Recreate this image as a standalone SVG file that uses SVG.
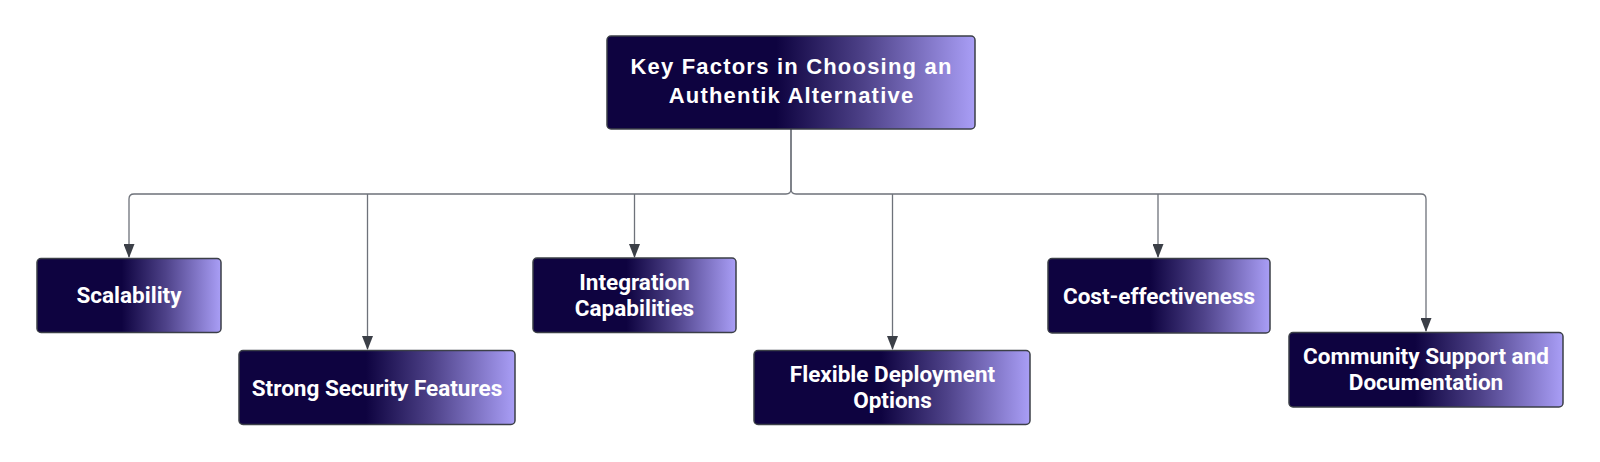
<svg xmlns="http://www.w3.org/2000/svg" width="1600" height="462" viewBox="0 0 1600 462">
<style>
.box{stroke:#3b3f47;stroke-width:1.5}
.t{font-family:Roboto,"Liberation Sans",sans-serif;font-weight:bold;fill:#ffffff;text-anchor:middle}
.root{font-family:"Liberation Sans",Arial,sans-serif;font-size:22px;letter-spacing:1.2px}
.c{font-size:22.5px}
.ln{fill:none;stroke:#6e727a;stroke-width:1.3}
</style>
<defs>
<linearGradient id="g" x1="0" y1="0" x2="1" y2="0">
<stop offset="0" stop-color="#0e0340"/>
<stop offset="0.46" stop-color="#0e0340"/>
<stop offset="0.7" stop-color="#4e4289"/>
<stop offset="1" stop-color="#a99ef6"/>
</linearGradient>
<marker id="ar" markerWidth="14" markerHeight="11" refX="13" refY="5.5" orient="auto" markerUnits="userSpaceOnUse" viewBox="0 0 14 11">
<path d="M0,0 L14,5.5 L0,11 Z" fill="#3b3f47"/>
</marker>
</defs>
<g id="connectors">
<path class="ln" d="M791,129 V189 Q791,194 786,194 H134 Q129,194 129,199 V257" marker-end="url(#ar)"/>
<path class="ln" d="M791,129 V189 Q791,194 796,194 H1421 Q1426,194 1426,199 V331" marker-end="url(#ar)"/>
<path class="ln" d="M367.5,194 V349" marker-end="url(#ar)"/>
<path class="ln" d="M634.5,194 V257" marker-end="url(#ar)"/>
<path class="ln" d="M892.5,194 V349" marker-end="url(#ar)"/>
<path class="ln" d="M1158,194 V257" marker-end="url(#ar)"/>
</g>
<g id="root">
<rect class="box" x="607" y="36" width="368" height="93" rx="4" fill="url(#g)"/>
<text class="t root" x="791.5" y="74">Key Factors in Choosing an</text>
<text class="t root" x="791.5" y="103">Authentik Alternative</text>
</g>
<g id="scalability">
<rect class="box" x="37" y="258.5" width="184" height="74" rx="4" fill="url(#g)"/>
<text class="t c" x="129" y="303">Scalability</text>
</g>
<g id="security">
<rect class="box" x="239" y="350.5" width="276" height="74" rx="4" fill="url(#g)"/>
<text class="t c" x="377" y="396">Strong Security Features</text>
</g>
<g id="integration">
<rect class="box" x="533" y="258" width="203" height="74.5" rx="4" fill="url(#g)"/>
<text class="t c" x="634.5" y="290">Integration</text>
<text class="t c" x="634.5" y="315.5">Capabilities</text>
</g>
<g id="deployment">
<rect class="box" x="754" y="350.5" width="276" height="74" rx="4" fill="url(#g)"/>
<text class="t c" x="892.5" y="382">Flexible Deployment</text>
<text class="t c" x="892.5" y="408">Options</text>
</g>
<g id="cost">
<rect class="box" x="1048" y="258.5" width="222" height="74.5" rx="4" fill="url(#g)"/>
<text class="t c" x="1159" y="304">Cost-effectiveness</text>
</g>
<g id="community">
<rect class="box" x="1289" y="332.5" width="274" height="74.5" rx="4" fill="url(#g)"/>
<text class="t c" x="1426" y="363.5">Community Support and</text>
<text class="t c" x="1426" y="389.5">Documentation</text>
</g>
</svg>
